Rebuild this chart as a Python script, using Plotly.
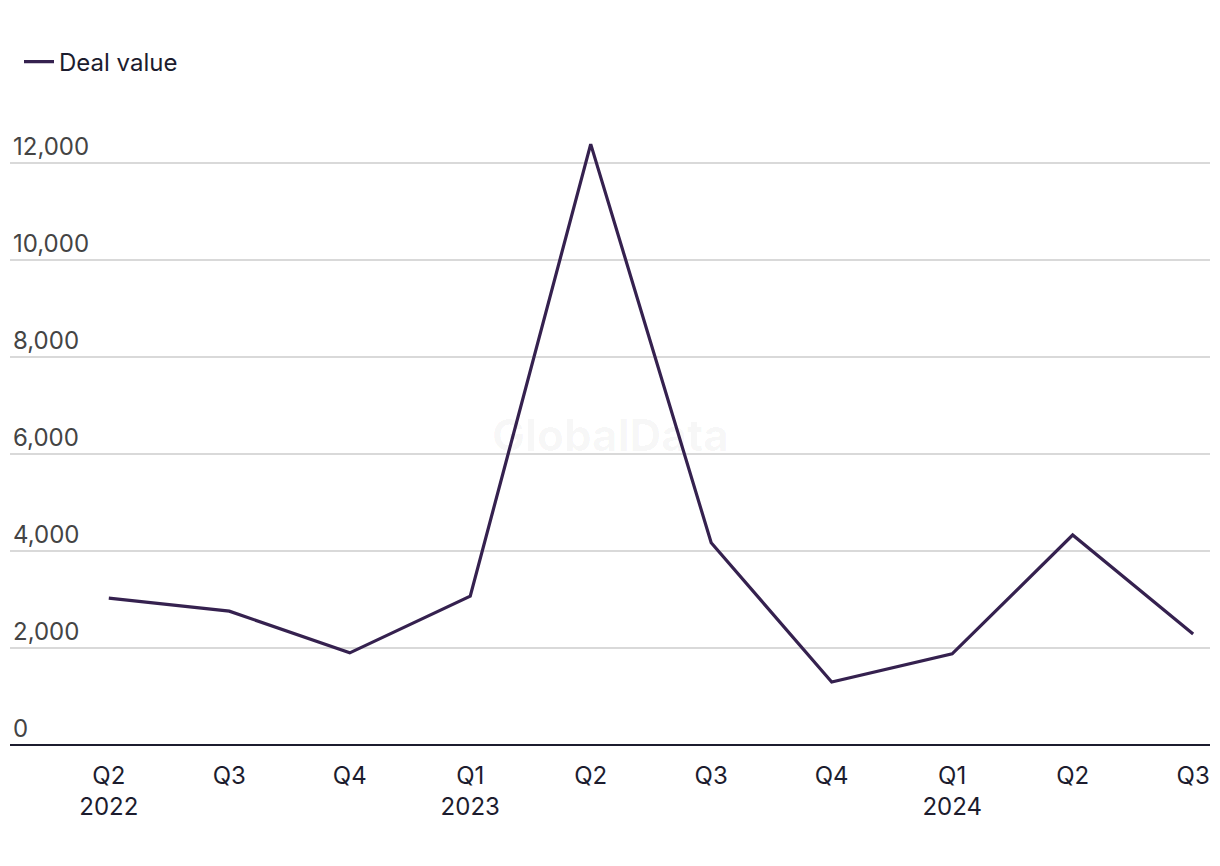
import plotly.graph_objects as go

quarters = ["Q2<br>2022", "Q3", "Q4", "Q1<br>2023", "Q2", "Q3", "Q4", "Q1<br>2024", "Q2", "Q3"]
deal_value = [3030, 2760, 1900, 3070, 12390, 4170, 1300, 1880, 4330, 2290]
y_ticks = [0, 2000, 4000, 6000, 8000, 10000, 12000]

text_color = "#1c1c2e"
line_color = "#35214f"

fig = go.Figure(go.Scatter(
    x=list(range(len(quarters))),
    y=deal_value,
    mode="lines",
    name="Deal value",
    line=dict(color=line_color, width=3.2),
))

# faint watermark
fig.add_annotation(
    text="<b>GlobalData</b>", xref="paper", yref="paper", x=0.5, y=0.48,
    showarrow=False, font=dict(size=44, color="rgba(0,0,0,0.035)"),
)

# margins offset by the page's 8px body margin
fig.update_layout(
    width=1220, height=866,
    paper_bgcolor="white", plot_bgcolor="white",
    margin=dict(t=92, b=129, l=2, r=18, autoexpand=False),
    font=dict(family="Inter, Roboto, sans-serif", size=24, color=text_color),
    showlegend=True,
    legend=dict(orientation="h", x=0.0075, y=1.059, xanchor="left", yanchor="middle",
                font=dict(size=24, color=text_color)),
    xaxis=dict(
        tickmode="array", tickvals=list(range(len(quarters))), ticktext=quarters,
        range=[-0.82, 9.14], showgrid=False, zeroline=False, showline=False,
        ticks="", ticklabelstandoff=14, automargin=False,
    ),
    yaxis=dict(
        range=[0, 13300], tickvals=y_ticks, tickformat=",",
        ticklabelposition="inside top", showgrid=True, gridcolor="#d9d9d9", gridwidth=1.5,
        zeroline=True, zerolinecolor=text_color, zerolinewidth=2, showline=False, ticks="",
        automargin=False,
    ),
)

fig.write_html("out.html")
